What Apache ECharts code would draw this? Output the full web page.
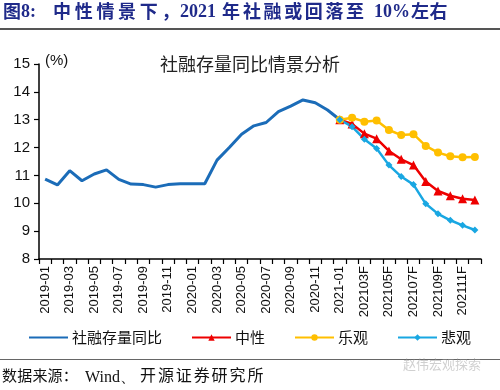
<!DOCTYPE html>
<html><head><meta charset="utf-8">
<script src="https://cdn.jsdelivr.net/npm/echarts@6/dist/echarts.min.js"></script>
<style>html,body{margin:0;padding:0;background:#fff}#c{width:500px;height:390px}</style>
</head><body><div id="c"></div>
<script>
const categories = [
 '2019-01','2019-02','2019-03','2019-04','2019-05','2019-06','2019-07','2019-08','2019-09','2019-10','2019-11','2019-12',
 '2020-01','2020-02','2020-03','2020-04','2020-05','2020-06','2020-07','2020-08','2020-09','2020-10','2020-11','2020-12',
 '2021-01','202102F','202103F','202104F','202105F','202106F','202107F','202108F','202109F','202110F','202111F','202112F'];
const historical = [10.87,10.66,11.17,10.81,11.05,11.2,10.86,10.69,10.67,10.58,10.67,10.7,
 10.7,10.7,11.55,12.0,12.48,12.78,12.9,13.29,13.49,13.71,13.61,13.35,13.0];
const neutral = [13.0,12.85,12.5,12.32,11.88,11.58,11.37,10.78,10.44,10.27,10.16,10.12];
const optimistic = [13.0,13.07,12.93,12.97,12.63,12.45,12.48,12.06,11.82,11.69,11.65,11.66];
const pessimistic = [13.0,12.75,12.3,11.97,11.37,10.96,10.67,9.98,9.62,9.39,9.21,9.04];
const forecastStart = 24;
const pad = (arr, start) => categories.map((_, i) => (i >= start && i - start < arr.length) ? arr[i - start] : null);

const cjk = '"Noto Sans CJK SC", sans-serif';
const lat = '"Liberation Sans", Arial, sans-serif';

// helper: text placed char by char with fixed pitch
function spaced(str, x, y, pitch, font, fill) {
  return Array.from(str).map((ch, i) => ({type: 'text', left: x + i * pitch, top: y, silent: true,
    style: {text: ch, font: font, fill: fill}}));
}
const navy = '#1f2a8a';
const hFont = 'bold 18px "Noto Sans CJK SC", sans-serif';
const hSerif = 'bold 18px "Liberation Serif", "Times New Roman", serif';
const sFont = '15px "Noto Sans CJK SC", sans-serif';
const sFont2 = '16px "Noto Sans CJK SC", sans-serif';
const graphics = [
  {type: 'text', left: 3, top: 2, style: {text: '图', font: hFont, fill: navy}},
  {type: 'text', left: 21, top: 3, style: {text: '8:', font: hSerif, fill: navy}}
].concat(
  spaced('中性情景下，', 53, 2, 21.7, hFont, navy),
  [{type: 'text', left: 180, top: 3, style: {text: '2021', font: hSerif, fill: navy}}],
  spaced('年', 222, 2, 20, hFont, navy),
  spaced('社融或回落至', 243, 2, 20.6, hFont, navy),
  [{type: 'text', left: 374, top: 3, style: {text: '10%', font: hSerif, fill: navy}}],
  spaced('左右', 411, 2, 18.5, hFont, navy),
  [
    {type: 'rect', shape: {x: 0, y: 28, width: 500, height: 2}, style: {fill: '#555'}},
    {type: 'rect', shape: {x: 0, y: 359, width: 500, height: 1}, style: {fill: '#666'}},
    {type: 'text', left: 403, top: 358, style: {text: '赵伟宏观探索', font: '13px "Noto Sans CJK SC", sans-serif', fill: 'rgba(150,150,150,0.45)'}},
    {type: 'text', left: 45, top: 53, style: {text: '(%)', font: '15px "Liberation Sans", Arial, sans-serif', fill: '#111'}}
  ],
  spaced('数据来源：', 2, 368, 15.2, sFont, '#111'),
  [{type: 'text', left: 85, top: 370, style: {text: 'Wind、', font: '16px "Liberation Serif", serif', fill: '#111'}}],
  spaced('开源证券研究所', 140, 367, 17.9, sFont2, '#111')
);

const chart = echarts.init(document.getElementById('c'), null, {renderer: 'canvas'});
chart.setOption({
  animation: false,
  backgroundColor: '#fff',
  title: {text: '社融存量同比情景分析', left: 'center', top: 50,
    textStyle: {fontFamily: cjk, fontSize: 18, fontWeight: 'normal', color: '#222'}},
  graphic: graphics,
  legend: {bottom: 40, left: 23, itemWidth: 39, itemHeight: 8, itemGap: 29,
    textStyle: {fontFamily: cjk, fontSize: 15, color: '#111', padding: [0, 0, 0, -1]},
    data: [{name: '社融存量同比', itemStyle: {opacity: 0}}, '中性', '乐观', '悲观']},
  grid: {left: 39, right: 19, top: 64, bottom: 131},
  xAxis: {type: 'category', data: categories, boundaryGap: true,
    axisLine: {lineStyle: {color: '#000', width: 1.5}},
    axisTick: {show: true, interval: 0, length: 5, lineStyle: {color: '#000', width: 1.2}},
    axisLabel: {interval: 1, rotate: 90, fontFamily: lat, fontSize: 13, color: '#111', margin: 7}},
  yAxis: {type: 'value', min: 8, max: 15, interval: 1,
    axisLine: {show: true, lineStyle: {color: '#000', width: 1.5}},
    axisTick: {show: true, length: 5, lineStyle: {color: '#000', width: 1.2}},
    splitLine: {show: false},
    axisLabel: {fontFamily: lat, fontSize: 15, color: '#111', margin: 9}},
  series: [
    {name: '社融存量同比', type: 'line', data: historical.concat(categories.slice(historical.length).map(() => null)),
      symbol: 'none', lineStyle: {width: 3, color: '#1b6cb8'}, itemStyle: {color: '#1b6cb8'}},
    {name: '中性', type: 'line', data: pad(neutral, forecastStart), symbol: 'triangle', symbolSize: 9, showAllSymbol: true,
      lineStyle: {width: 2.5, color: '#ee0000'}, itemStyle: {color: '#ee0000'}},
    {name: '乐观', type: 'line', data: pad(optimistic, forecastStart), symbol: 'circle', symbolSize: 8, showAllSymbol: true,
      lineStyle: {width: 2.5, color: '#ffbf00'}, itemStyle: {color: '#ffbf00'}},
    {name: '悲观', type: 'line', data: pad(pessimistic, forecastStart), symbol: 'diamond', symbolSize: 7, showAllSymbol: true,
      lineStyle: {width: 2.5, color: '#19a7e2'}, itemStyle: {color: '#19a7e2'}}
  ]
});
</script></body></html>
